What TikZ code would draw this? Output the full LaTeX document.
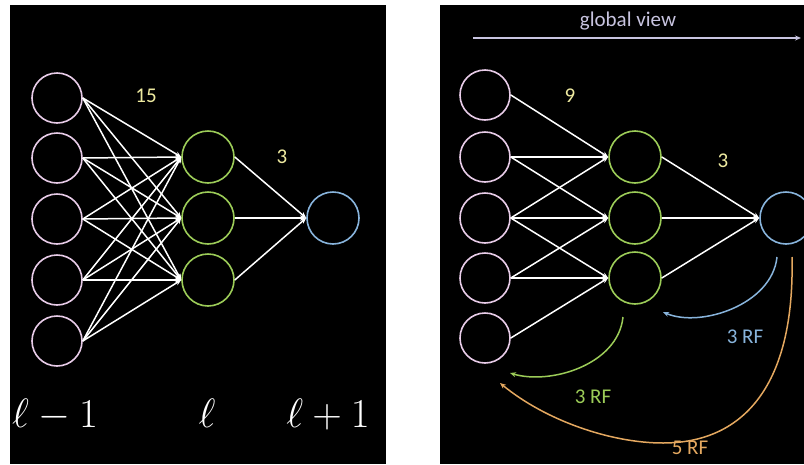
\RequirePackage{fix-cm}
\documentclass[tikz,border=0pt]{standalone}
\usepackage{fontspec}
\newfontfamily\numfont{Carlito}
\usetikzlibrary{arrows.meta}
\definecolor{cpink}{HTML}{E8CCE8}
\definecolor{cgreen}{HTML}{9CCC58}
\definecolor{cblue}{HTML}{88B4DC}
\definecolor{corange}{HTML}{E4A860}
\definecolor{cyellow}{HTML}{EEEAA0}
\definecolor{clav}{HTML}{C8C4E0}
\begin{document}
\begin{tikzpicture}[x=1pt,y=-1pt,
  neuron/.style={circle, draw, fill=black, line width=1.6pt, minimum size=50pt, inner sep=0pt},
  pinkn/.style={neuron, draw=cpink},
  greenn/.style={neuron, draw=cgreen, minimum size=52pt},
  bluen/.style={neuron, draw=cblue, minimum size=52pt},
  edge/.style={draw=white, line width=1.5pt, -{Stealth[length=6pt,width=5pt]}},
  numlab/.style={text=cyellow, font=\numfont\fontsize{21}{23}\selectfont, inner sep=0pt},
  rflab/.style={font=\numfont\fontsize{21}{23}\selectfont, inner sep=0pt},
  layerlab/.style={text=white, font=\fontsize{41}{43}\selectfont, inner sep=0pt, anchor=base},
  rfarc/.style={line width=1.5pt, -{Stealth[length=6pt,width=5pt]}},
]
\useasboundingbox (0,0) rectangle (804,464);
\fill[white] (0,0) rectangle (804,464);
\fill[black] (10,5) rectangle (386,464);
\fill[black] (440,5) rectangle (804,464);

% ---------- left panel ----------
\foreach \i/\y in {1/98,2/158,3/219,4/280,5/341}
  \node[pinkn] (lp\i) at (57,\y) {};
\foreach \j/\y in {1/157,2/218,3/280}
  \node[greenn] (lg\j) at (208,\y) {};
\node[bluen] (lb) at (333,218) {};
\foreach \i in {1,...,5}
  \foreach \j in {1,2,3}
    \draw[edge] (lp\i.east) -- (lg\j.west);
\foreach \j in {1,2,3}
  \draw[edge] (lg\j.east) -- (lb.west);
\node[numlab] (l15) at (146,96) {15};
\node[numlab] (l3) at (282,157) {3};
\node[layerlab] (lab1) at (55,427) {$\ell-1$};
\node[layerlab] (lab2) at (207,427) {$\ell$};
\node[layerlab] (lab3) at (328,427) {$\ell+1$};

% ---------- right panel ----------
\foreach \i/\y in {1/95,2/157,3/218,4/278,5/338}
  \node[pinkn] (rp\i) at (485,\y) {};
\foreach \j/\y in {1/157,2/218,3/278}
  \node[greenn] (rg\j) at (635,\y) {};
\node[bluen] (rb) at (786,218) {};
\foreach \j in {1,2,3}{
  \foreach \d in {0,1,2}{
    \pgfmathtruncatemacro{\i}{\j+\d}
    \draw[edge] (rp\i.east) -- (rg\j.west);
  }
  \draw[edge] (rg\j.east) -- (rb.west);
}
\node[numlab] (r9) at (570,96) {9};
\node[numlab] (r3) at (723,161) {3};

% global view arrow
\coordinate (gvs) at (473,38);
\coordinate (gve) at (801,38);
\draw[clav, line width=1.4pt, -{Stealth[length=6pt,width=5pt]}] (gvs) -- (gve);
\node[text=clav, font=\numfont\fontsize{21}{23}\selectfont, inner sep=0pt] (gv) at (628,21) {global view};

% receptive-field arcs
\coordinate (bs) at (777,257);
\coordinate (be) at (663,312);
\draw[rfarc, cblue] (bs) .. controls (772,305) and (700,328) .. (be);
\node[rflab, text=cblue] (brf) at (745,337) {3 RF};

\coordinate (gs) at (623,317);
\coordinate (ge) at (510,373);
\draw[rfarc, cgreen] (gs) .. controls (618,365) and (550,385) .. (ge);
\node[rflab, text=cgreen] (grf) at (593,397) {3 RF};

\coordinate (os) at (792,257);
\coordinate (ob) at (663,443);
\coordinate (oe) at (500,383);
\draw[rfarc, corange] (os) .. controls (795,390) and (740,443) .. (ob)
  .. controls (610,443) and (545,420) .. (oe);
\node[rflab, text=corange] (orf) at (690,448) {5 RF};
\end{tikzpicture}
\end{document}
